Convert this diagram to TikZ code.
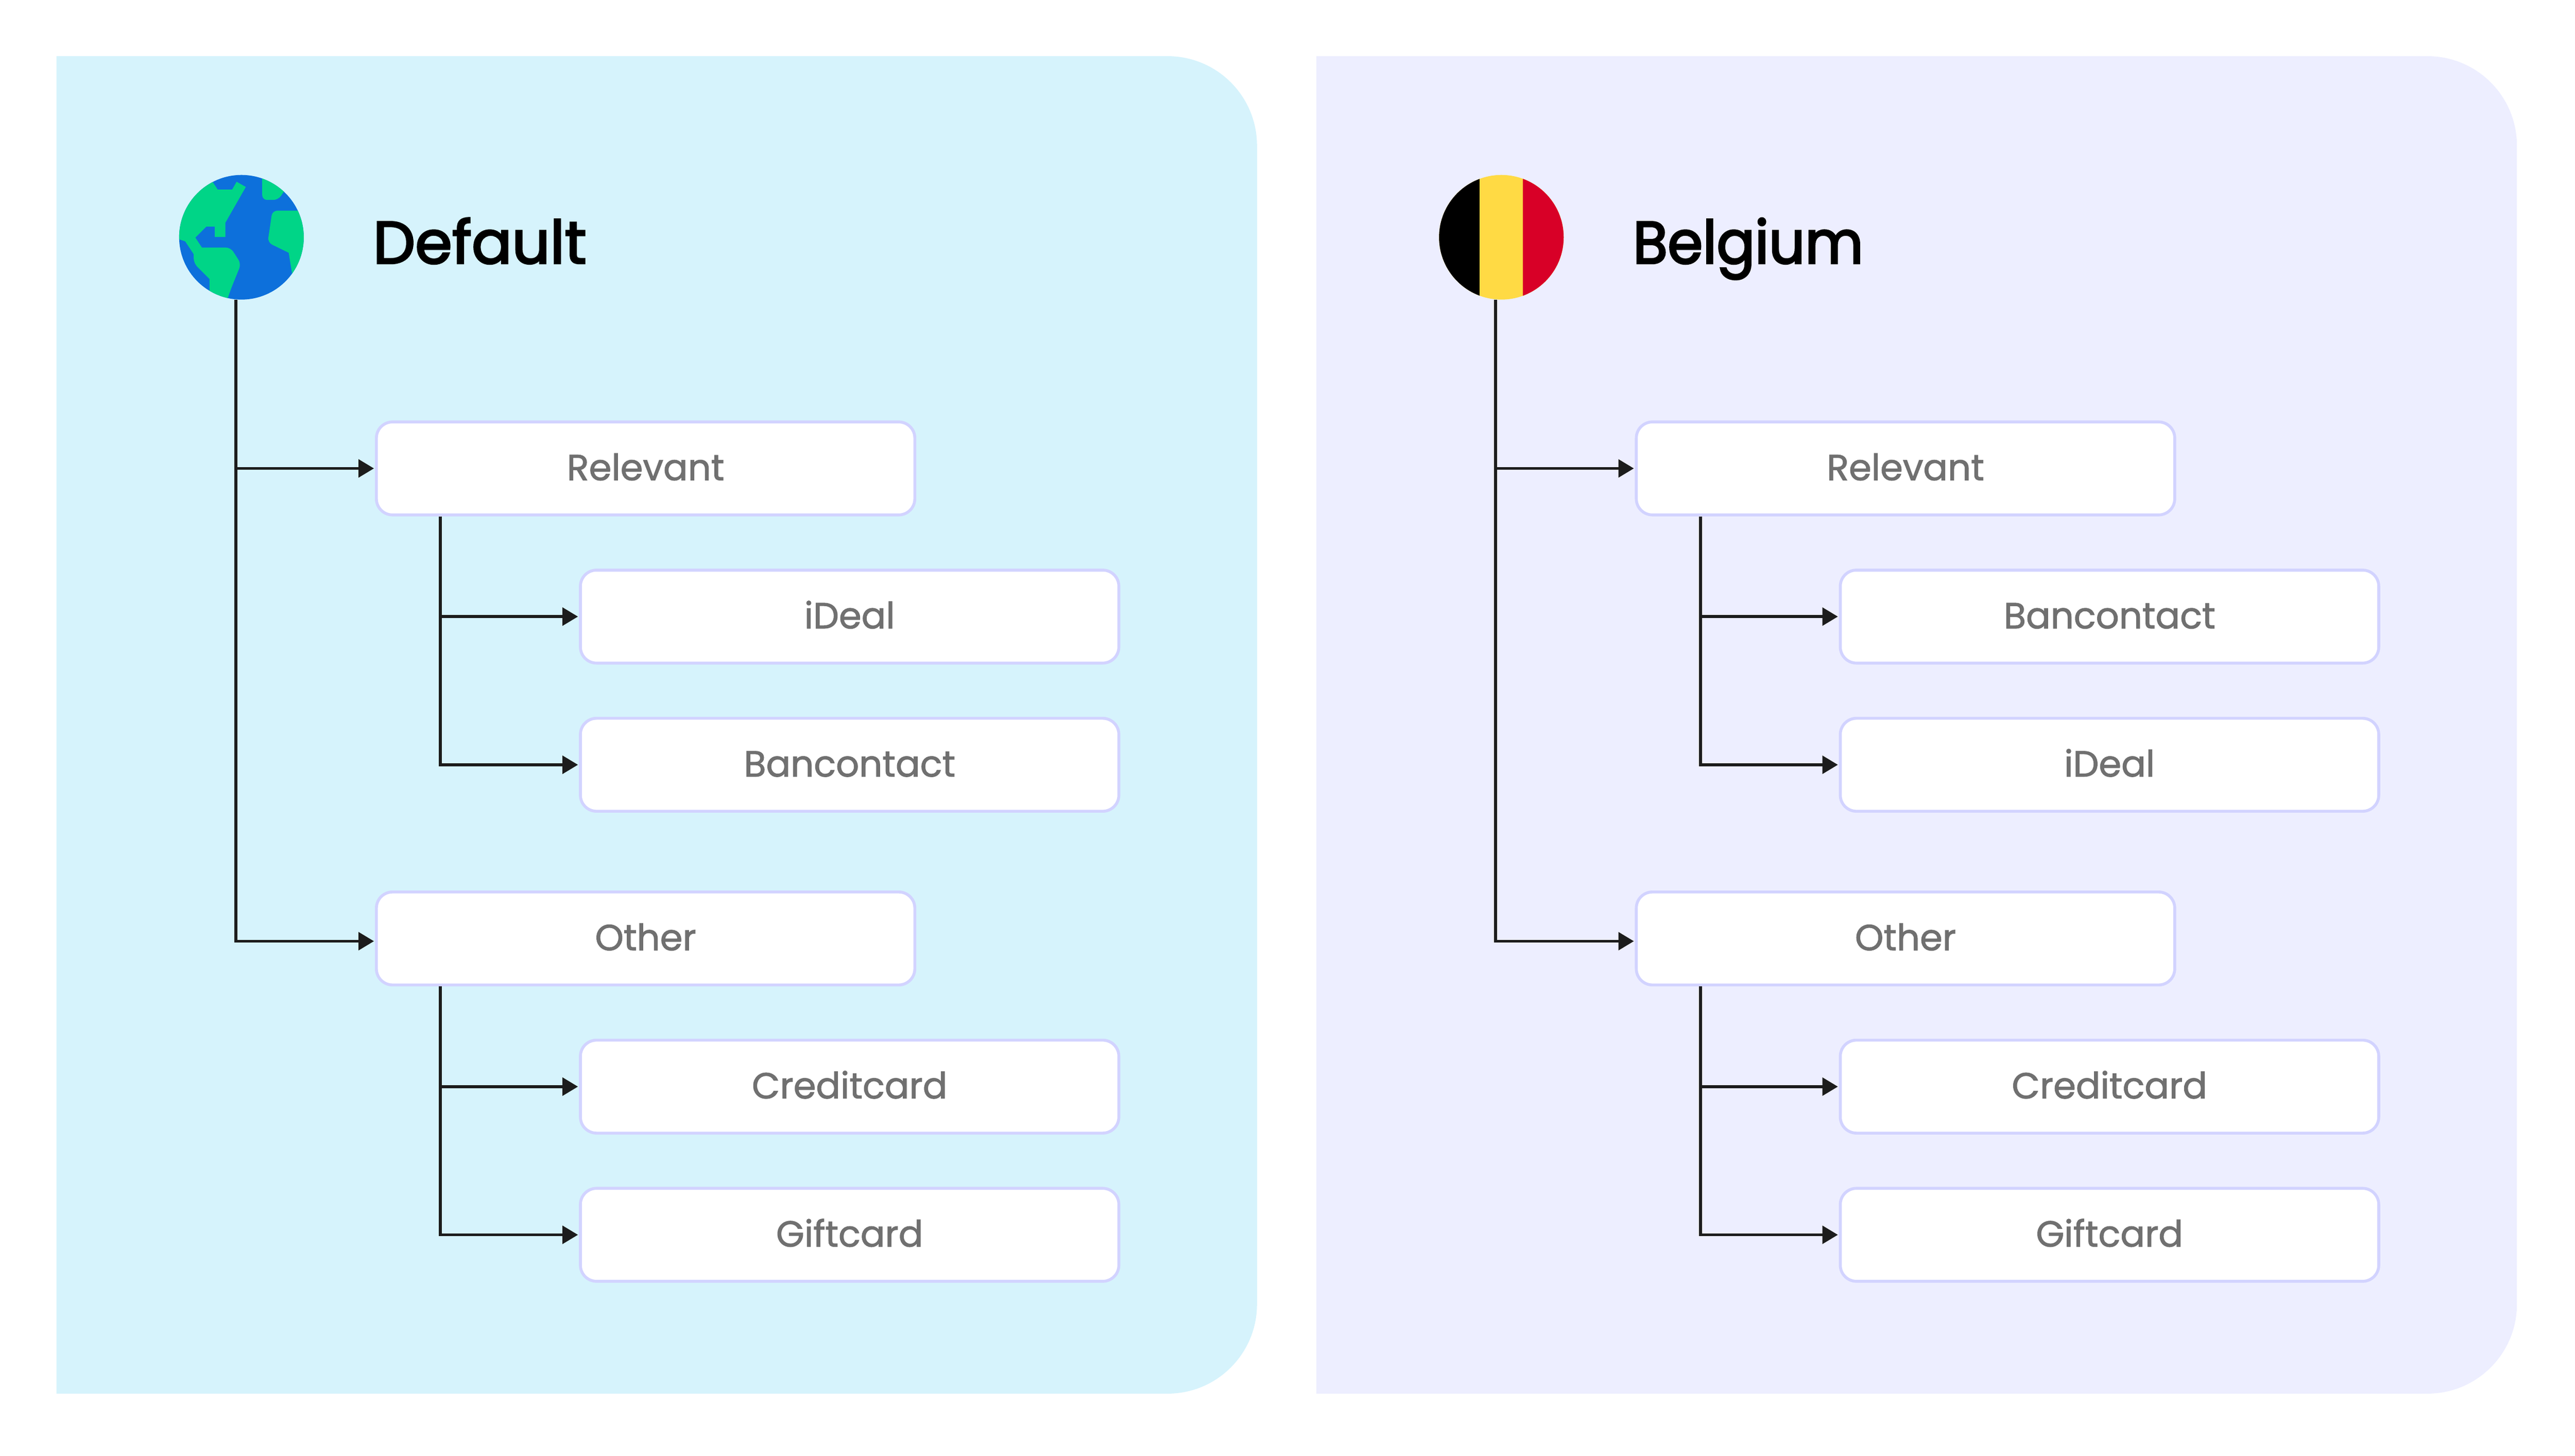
\documentclass[tikz,border=0pt]{standalone}
\usepackage{fontspec}
\setmainfont{Poppins}
\newfontfamily\boxfont{Poppins}[FakeBold=1.5]
\newfontfamily\titlefont{Poppins}[FakeBold=3]
\newfontfamily\narrowtitlefont{Poppins}[FakeBold=3,FakeStretch=.95]
\usetikzlibrary{arrows.meta}
\definecolor{skypanel}{HTML}{D6F3FC}
\definecolor{lilacpanel}{HTML}{EDEEFF}
\definecolor{boxline}{HTML}{D2D3FF}
\definecolor{wireblack}{HTML}{1C1C1C}
\definecolor{labelgrey}{HTML}{707070}
\definecolor{globeblue}{HTML}{0D70DB}
\definecolor{globegreen}{HTML}{00D587}
\definecolor{flagyellow}{HTML}{FFDA44}
\definecolor{flagred}{HTML}{D80027}

\begin{document}
\begin{tikzpicture}[node distance=4.59cm,>={Triangle[length=.48cm,width=.55cm]}]

  \tikzstyle{panel}=[rounded corners=2.77cm]
  \tikzstyle{method}=[rectangle,rounded corners=.5cm,line width=.09cm,draw=boxline,fill=white,
                      text=labelgrey,minimum width=16.68cm,minimum height=2.88cm,
                      text height=.79cm,text depth=.06cm,inner sep=0pt,
                      font=\boxfont\fontsize{32}{38}\selectfont]
  \tikzstyle{title}=[font=\titlefont\fontsize{52.5}{60}\selectfont,text=black,anchor=base west,inner sep=0pt]
  \tikzstyle{wire}=[line width=.09cm,draw=wireblack,shorten >=.03cm]
  \tikzstyle{coin}=[circle,minimum size=3.86cm,inner sep=0pt]

  \useasboundingbox (0,0) rectangle (79.77,-45.09);

  % First tree
  \path [panel,fill=skypanel]
    (1.75,-1.74) [sharp corners] -- (1.75,-43.17) [panel] -- (38.94,-43.17) -- (38.94,-1.74) [sharp corners] -- cycle;

  \node [coin,fill=globeblue] (globe) at (7.48,-7.35) {};
  \begin{scope}
    \clip (globe) circle (1.93);
    \begin{scope}[shift={(globe.center)},x=.003827cm,y=-.003827cm,shift={(-778,-745)},fill=globegreen]
      \fill (545,298) -- (586,359) -- (703,359) -- (739,296) -- (813,338) -- (648,627) -- (648,743)
        -- (563,743) -- (563,658) -- (495,658) -- (405,748) -- (458,828)
        [rounded corners=.15cm] -- (690,828) -- (775,960) -- (690,1170) [sharp corners] -- (640,1320)
        -- (520,1320) -- (520,1083) [rounded corners=.15cm] -- (392,955) [sharp corners] -- (392,882)
        -- (323,778) -- (240,750) -- (230,500) -- (400,250) -- cycle;
      \fill (946,200) [rounded corners=.15cm] -- (946,443) -- (1075,443) [sharp corners] -- (1200,260) -- cycle;
      \fill (1400,530) [rounded corners=.15cm] -- (1028,530) -- (990,787) [sharp corners] -- (1160,870)
        -- (1188,1040) -- (1300,1150) -- cycle;
    \end{scope}
  \end{scope}
  \node [title] (defaulttitle) at (11.55,-8.16) {Default};

  \node [method] (relevant) at (20.0,-14.51) {Relevant};
  \node [method] (ideal) [below of=relevant,xshift=6.32cm] {iDeal};
  \node [method] (bancontact) [below of=ideal] {Bancontact};
  \node [method] (other) [below of=bancontact,xshift=-6.32cm,yshift=-.79cm] {Other};
  \node [method] (creditcard) [below of=other,xshift=6.32cm] {Creditcard};
  \node [method] (giftcard) [below of=creditcard] {Giftcard};

  \draw [wire,->] ([xshift=-.175cm]globe.south) |- (relevant.west);
  \draw [wire,->] ([xshift=-.175cm]globe.south) |- ([yshift=-.085cm]other.west);
  \draw [wire,->] ([xshift=2.03cm]relevant.south west) |- (ideal.west);
  \draw [wire,->] ([xshift=2.03cm]relevant.south west) |- (bancontact.west);
  \draw [wire,->] ([xshift=2.03cm]other.south west) |- (creditcard.west);
  \draw [wire,->] ([xshift=2.03cm]other.south west) |- (giftcard.west);

  % Second tree
  \begin{scope}[xshift=39.03cm]
    \path [panel,fill=lilacpanel]
      (1.75,-1.74) [sharp corners] -- (1.75,-43.17) [panel] -- (38.94,-43.17) -- (38.94,-1.74) [sharp corners] -- cycle;

    \node [coin,fill=flagyellow] (flag) at (7.48,-7.35) {};
    \begin{scope}
      \clip (flag) circle (1.93);
      \fill [black] (5.5,-5.3) rectangle (6.81,-9.4);
      \fill [flagred] (8.15,-5.3) rectangle (9.6,-9.4);
    \end{scope}
    \node [title,font=\narrowtitlefont\fontsize{52.5}{60}\selectfont] (belgiumtitle) at (11.55,-8.16) {Belgium};

    \node [method] (relevant2) at (20.0,-14.51) {Relevant};
    \node [method] (bancontact2) [below of=relevant2,xshift=6.32cm] {Bancontact};
    \node [method] (ideal2) [below of=bancontact2] {iDeal};
    \node [method] (other2) [below of=ideal2,xshift=-6.32cm,yshift=-.79cm] {Other};
    \node [method] (creditcard2) [below of=other2,xshift=6.32cm] {Creditcard};
    \node [method] (giftcard2) [below of=creditcard2] {Giftcard};

    \draw [wire,->] ([xshift=-.175cm]flag.south) |- (relevant2.west);
    \draw [wire,->] ([xshift=-.175cm]flag.south) |- ([yshift=-.085cm]other2.west);
    \draw [wire,->] ([xshift=2.03cm]relevant2.south west) |- (bancontact2.west);
    \draw [wire,->] ([xshift=2.03cm]relevant2.south west) |- (ideal2.west);
    \draw [wire,->] ([xshift=2.03cm]other2.south west) |- (creditcard2.west);
    \draw [wire,->] ([xshift=2.03cm]other2.south west) |- (giftcard2.west);
  \end{scope}
\end{tikzpicture}
\end{document}
